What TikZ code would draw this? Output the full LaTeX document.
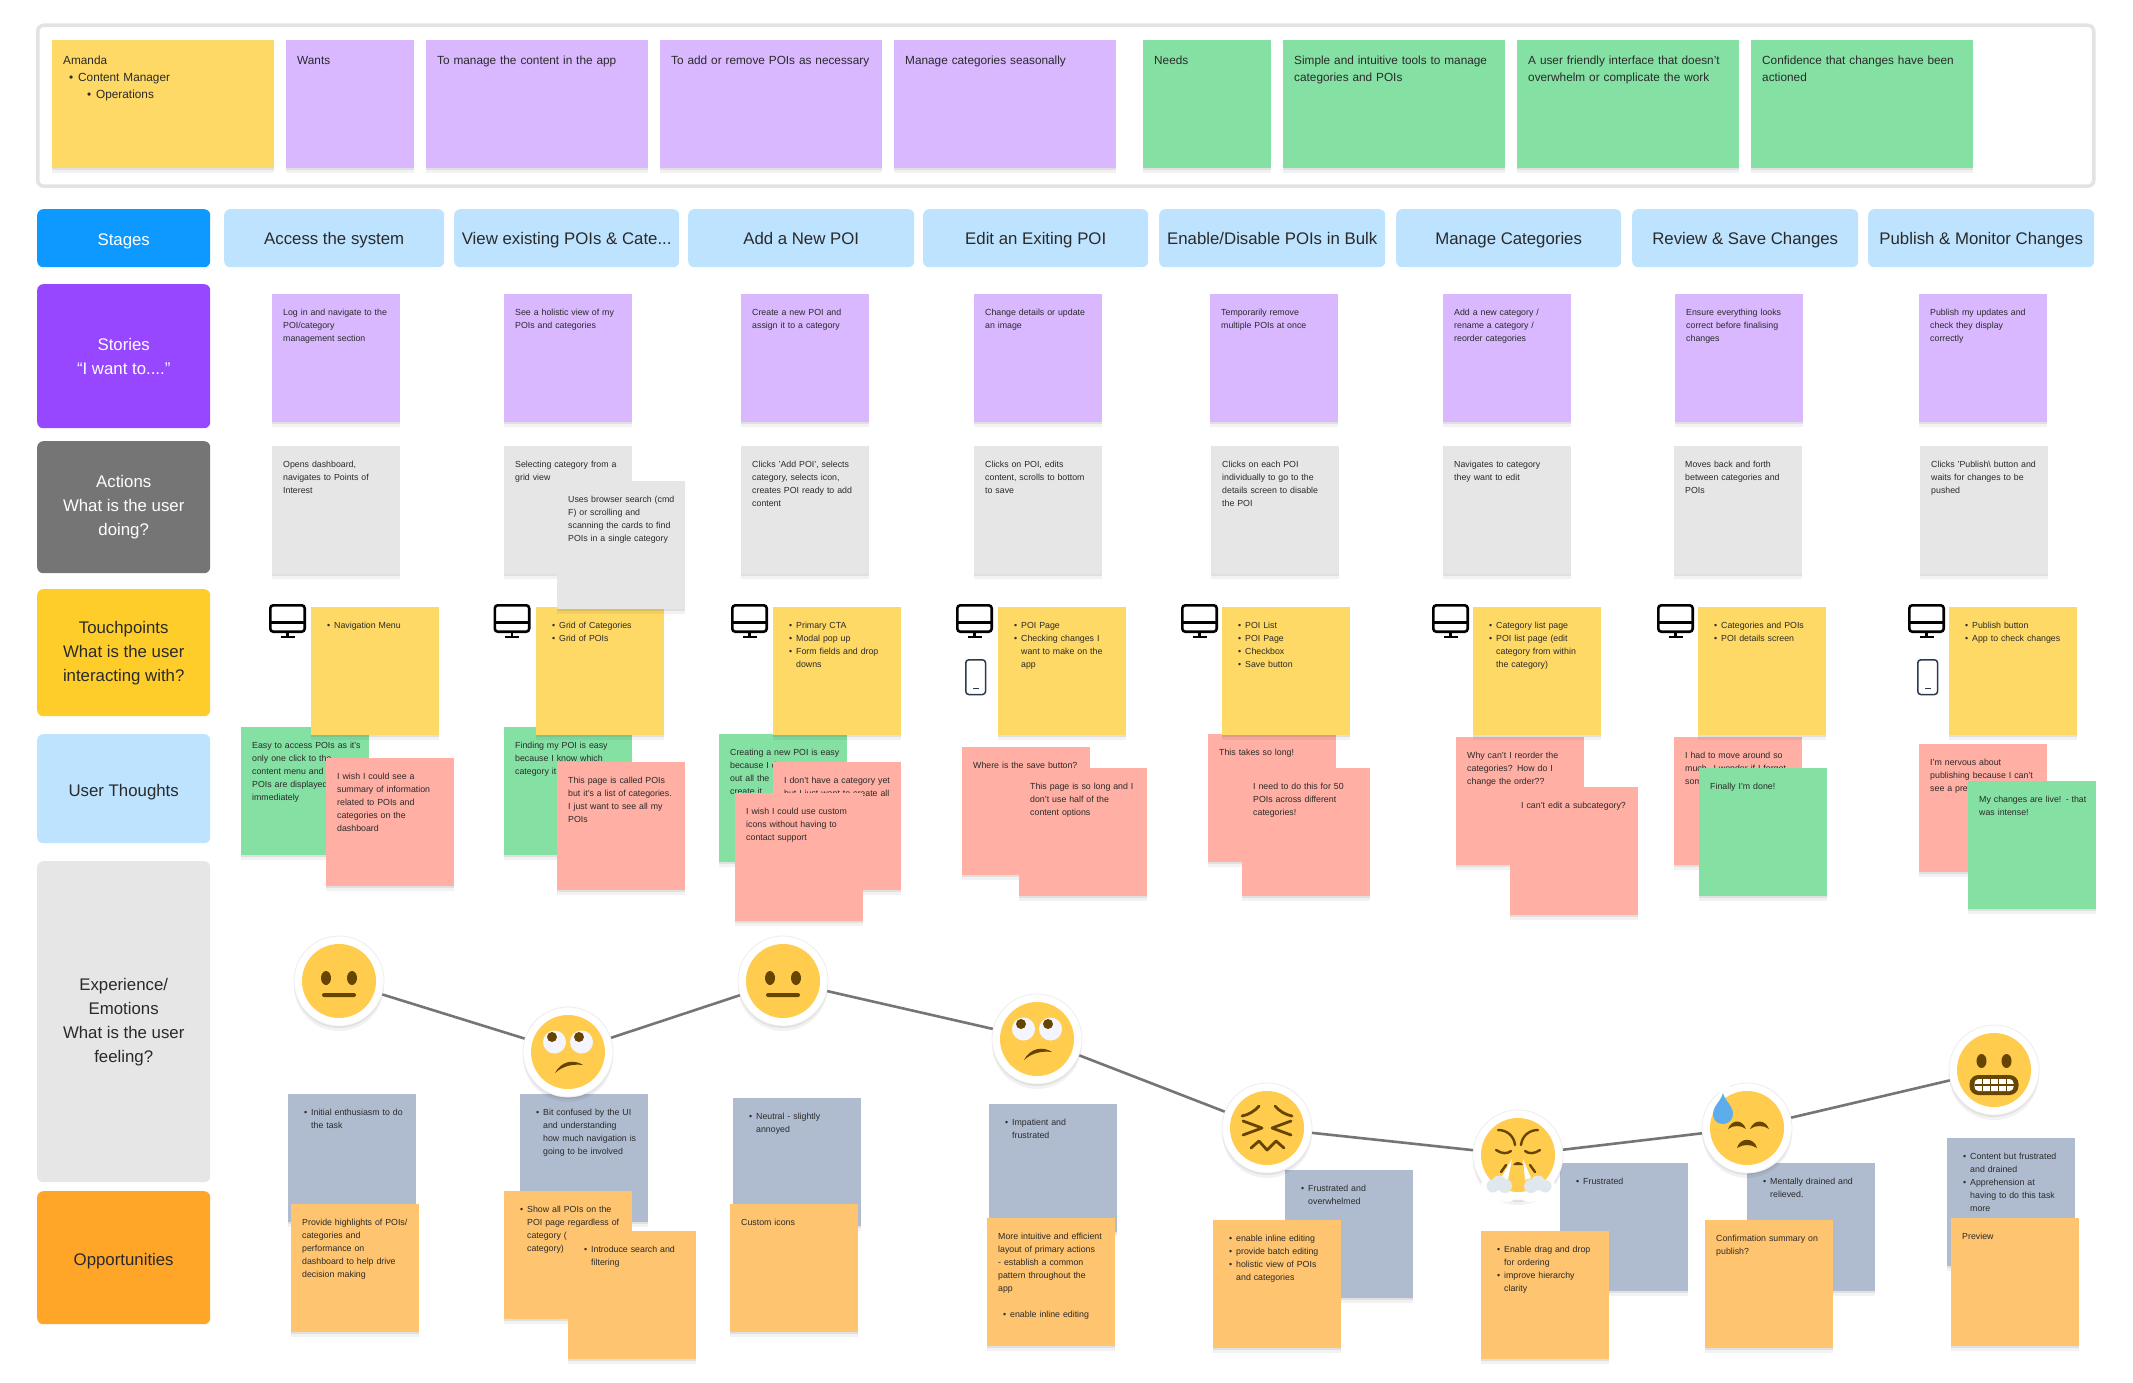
\documentclass[tikz,border=0pt]{standalone}
\usepackage{fontspec}
\setmainfont{Liberation Sans}
\usetikzlibrary{shadows}
\definecolor{ink}{HTML}{2A2A2A}
\definecolor{lilac}{HTML}{D9B8FF}
\definecolor{mint}{HTML}{85E0A3}
\definecolor{paper}{HTML}{E6E6E6}
\definecolor{honey}{HTML}{FFD966}
\definecolor{salmon}{HTML}{FFAFA3}
\definecolor{peach}{HTML}{FFC470}
\definecolor{slate}{HTML}{AFBCCF}
\definecolor{sky}{HTML}{BDE3FF}
\definecolor{stageblue}{HTML}{0D99FF}
\definecolor{storypurple}{HTML}{9747FF}
\definecolor{actiongrey}{HTML}{757575}
\definecolor{touchyellow}{HTML}{FFCD29}
\definecolor{ideaorange}{HTML}{FFA629}
\definecolor{faceyellow}{HTML}{FFCC4D}
\definecolor{facebrown}{HTML}{664500}
\definecolor{dropblue}{HTML}{5DADEC}
\definecolor{steam}{HTML}{E1E8ED}
\definecolor{phoneline}{HTML}{2C3A50}
\newcommand{\itm}{\hspace*{5pt}\makebox[7pt][l]{\textbullet}}
\newcommand{\cnt}{\hspace*{12pt}}
\tikzset{
  softshadow/.style={
    drop shadow={shadow xshift=0pt, shadow yshift=-2pt, opacity=0.07, fill=black},
    drop shadow={shadow xshift=0pt, shadow yshift=-5pt, opacity=0.05, fill=black}},
  sticky/.style={anchor=north west, inner sep=0pt, minimum width=128pt, minimum height=128pt,
    text width=128pt, text height=21pt, text depth=107pt, align=left, text=ink,
    font=\fontsize{8.8}{13}\selectfont, execute at begin node={\leftskip=11pt}, softshadow},
  widesticky/.style={sticky, minimum width=222pt, text width=222pt, text height=24.5pt, text depth=103.5pt,
    font=\fontsize{11.8}{17}\selectfont},
  topsticky/.style={sticky, text height=24.5pt, text depth=103.5pt, font=\fontsize{11.8}{17}\selectfont},
  rowcell/.style 2 args={anchor=north west, inner sep=0pt, minimum width=#1, minimum height=#2,
    rounded corners=6pt, align=center, font=\fontsize{16.8}{24}\selectfont},
  labelcell/.style 2 args={rowcell={#1}{#2}, execute at begin node={\rule{0pt}{19pt}}},
  stagecell/.style={rowcell={#1}{58pt}, fill=sky, text=ink, text height=12pt, text depth=0pt},
  sticker/.style={circle, fill=white, draw=black!7, line width=0.8pt, minimum size=90pt, inner sep=0pt, softshadow},
  journey/.style={draw=actiongrey, line width=2.6pt},
  neutral/.pic={
    \fill[faceyellow] (0,0) circle (37);
    \fill[facebrown] (-13,-3) ellipse (5 and 7) (13,-3) ellipse (5 and 7);
    \fill[facebrown, rounded corners=2pt] (-17,12) rectangle (17,16);
  },
  rolling/.pic={
    \fill[faceyellow] (0,0) circle (37);
    \fill[white!96!blue] (-13.5,-10) circle (11.5) (13.5,-10) circle (11.5);
    \fill[facebrown] (-16,-15) circle (5) (11,-15) circle (5);
    \fill[facebrown] (-13,21) .. controls (-7,9) and (6,7) .. (15,13) .. controls (6,12) and (-4,13) .. (-13,21) -- cycle;
  },
  persevere/.pic={
    \fill[faceyellow] (0,0) circle (37);
    \draw[facebrown, line width=2.8pt, line cap=round, line join=round]
      (-25,-12) .. controls (-19,-13) and (-12,-17) .. (-8,-22)
      (25,-12) .. controls (19,-13) and (12,-17) .. (8,-22)
      (-24,-7) -- (-5,0) -- (-24,7)
      (24,-7) -- (5,0) -- (24,7)
      (-16,20) -- (-8,13) -- (0,22) -- (9,13) -- (17,20);
  },
  triumph/.pic={
    \fill[white] (-22,32) circle (15) (-12,32) circle (15) (22,32) circle (15) (12,32) circle (15);
    \fill[faceyellow] (0,0) circle (37);
    \draw[facebrown, line width=2.4pt, line cap=round]
      (-20,-25) .. controls (-11,-25) and (-4,-19) .. (-3,-10)
      (20,-25) .. controls (11,-25) and (4,-19) .. (3,-10)
      (-22,-5) .. controls (-16,-1) and (-11,-1) .. (-7,-4)
      (22,-5) .. controls (16,-1) and (11,-1) .. (7,-4)
      (-17,17) -- (-12,10) (17,17) -- (12,10);
    \fill[facebrown] (-5,10) .. controls (-3,6) and (3,6) .. (5,10) -- cycle;
    \fill[white!90!steam] (-6,4) -- (-17,23) -- (-10,25) -- cycle;
    \fill[white!90!steam] (5,4) -- (13,23) -- (7,25) -- cycle;
    \fill[steam] (-25,31) circle (6.5) (-19,28) circle (7.5) (-13,31) circle (7);
    \fill[steam] (13,31) circle (7) (20,28) circle (7.5) (27,31) circle (6.5);
  },
  downcast/.pic={
    \fill[white] (-22,-38) circle (6);
    \fill[faceyellow] (0,0) circle (37);
    \fill[facebrown] (-19,1) .. controls (-15,-9) and (-5,-9) .. (-1,1) .. controls (-6,-3) and (-14,-3) .. (-19,1) -- cycle;
    \fill[facebrown] (3,1) .. controls (7,-9) and (18,-9) .. (22,1) .. controls (17,-3) and (8,-3) .. (3,1) -- cycle;
    \fill[facebrown] (-10,20) .. controls (-7,9) and (7,9) .. (10,20) .. controls (4,16) and (-4,16) .. (-10,20) -- cycle;
    \fill[dropblue] (-24,-35) .. controls (-22,-27) and (-14,-22) .. (-14,-14) .. controls (-14,-8) and (-19,-4) .. (-24,-4) .. controls (-30,-4) and (-34,-8) .. (-34,-14) .. controls (-34,-22) and (-26,-27) .. (-24,-35) -- cycle;
  },
  grimace/.pic={
    \fill[faceyellow] (0,0) circle (37);
    \fill[facebrown] (-12.5,-9) ellipse (5 and 7) (12.5,-9) ellipse (5 and 7);
    \fill[facebrown, rounded corners=9pt] (-24.5,5) rectangle (24.5,25);
    \fill[white, rounded corners=4pt] (-19.5,9) rectangle (19.5,21);
    \draw[facebrown, line width=1.3pt] (-19.5,15) -- (19.5,15)
      (-11.7,9) -- (-11.7,21) (-3.5,9) -- (-3.5,21) (4.5,9) -- (4.5,21) (12.3,9) -- (12.3,21);
  },
  desktop/.pic={
    \draw[black, line width=2.6pt, rounded corners=3pt] (1.3,1.3) rectangle (35.7,27.7);
    \draw[black, line width=2.6pt] (1.3,18.5) -- (35.7,18.5) (18.5,27.7) -- (18.5,33) (11.5,33) -- (25.5,33);
  },
  mobile/.pic={
    \draw[phoneline, line width=1.5pt, rounded corners=3pt] (0.8,0.8) rectangle (20.5,35.5);
    \draw[phoneline, line width=1.5pt] (8,29.5) -- (13.5,29.5);
  },
}
\begin{document}
\begin{tikzpicture}[x=1pt, y=-1pt]
  \useasboundingbox (0,0) rectangle (2133,1383);
  \fill[white] (0,0) rectangle (2133,1383);

  \node[draw=black!11, line width=3.5pt, rounded corners=6pt, anchor=north west, inner sep=0pt,
    minimum width=2056pt, minimum height=161pt] (persona) at (36,23.5) {};
  \node[widesticky, fill=honey] (amanda) at (52,40) {Amanda\\\hspace*{6pt}\makebox[9pt][l]{\textbullet}Content Manager\\\hspace*{24pt}\makebox[9pt][l]{\textbullet}Operations};
  \node[topsticky, fill=lilac] (wants) at (286,40) {Wants};
  \node[widesticky, fill=lilac] (want1) at (426,40) {To manage the content in the app};
  \node[widesticky, fill=lilac] (want2) at (660,40) {To add or remove POIs as necessary};
  \node[widesticky, fill=lilac] (want3) at (894,40) {Manage categories seasonally};
  \node[topsticky, fill=mint] (needs) at (1143,40) {Needs};
  \node[widesticky, fill=mint] (need1) at (1283,40) {Simple and intuitive tools to manage\\categories and POIs};
  \node[widesticky, fill=mint] (need2) at (1517,40) {A user friendly interface that doesn't\\overwhelm or complicate the work};
  \node[widesticky, fill=mint] (need3) at (1751,40) {Confidence that changes have been\\actioned};

  \node[labelcell={173pt}{58pt}, fill=stageblue, text=white] (stages) at (37,209) {Stages};
  \node[labelcell={173pt}{144pt}, fill=storypurple, text=white] (stories) at (37,284) {Stories\\“I want to....”};
  \node[labelcell={173pt}{132pt}, fill=actiongrey, text=white] (actions) at (37,441) {Actions\\What is the user\\doing?};
  \node[labelcell={173pt}{127pt}, fill=touchyellow, text=ink] (touchpoints) at (37,589) {Touchpoints\\What is the user\\interacting with?};
  \node[labelcell={173pt}{109pt}, fill=sky, text=ink] (thoughts) at (37,734) {User Thoughts};
  \node[labelcell={173pt}{321pt}, fill=paper, text=ink] (experience) at (37,861) {Experience/\\Emotions\\What is the user\\feeling?};
  \node[labelcell={173pt}{133pt}, fill=ideaorange, text=ink] (opportunities) at (37,1191) {Opportunities};

  \node[stagecell=220pt] (stage1) at (224,209) {Access the system};
  \node[stagecell=225pt] (stage2) at (454,209) {View existing POIs \& Cate...};
  \node[stagecell=226pt] (stage3) at (688,209) {Add a New POI};
  \node[stagecell=225pt] (stage4) at (923,209) {Edit an Exiting POI};
  \node[stagecell=226pt] (stage5) at (1159,209) {Enable/Disable POIs in Bulk};
  \node[stagecell=225pt] (stage6) at (1396,209) {Manage Categories};
  \node[stagecell=226pt] (stage7) at (1632,209) {Review \& Save Changes};
  \node[stagecell=226pt] (stage8) at (1868,209) {Publish \& Monitor Changes};

  \node[sticky, fill=lilac] (story1) at (272,294) {Log in and navigate to the\\POI/category\\management section};
  \node[sticky, fill=lilac] (story2) at (504,294) {See a holistic view of my\\POIs and categories};
  \node[sticky, fill=lilac] (story3) at (741,294) {Create a new POI and\\assign it to a category};
  \node[sticky, fill=lilac] (story4) at (974,294) {Change details or update\\an image};
  \node[sticky, fill=lilac] (story5) at (1210,294) {Temporarily remove\\multiple POIs at once};
  \node[sticky, fill=lilac] (story6) at (1443,294) {Add a new category /\\rename a category /\\reorder categories};
  \node[sticky, fill=lilac] (story7) at (1675,294) {Ensure everything looks\\correct before finalising\\changes};
  \node[sticky, fill=lilac] (story8) at (1919,294) {Publish my updates and\\check they display\\correctly};

  \node[sticky, fill=paper] (action1) at (272,446) {Opens dashboard,\\navigates to Points of\\Interest};
  \node[sticky, fill=paper] (action2) at (504,446) {Selecting category from a\\grid view};
  \node[sticky, fill=paper] (action3) at (741,446) {Clicks 'Add POI', selects\\category, selects icon,\\creates POI ready to add\\content};
  \node[sticky, fill=paper] (action4) at (974,446) {Clicks on POI, edits\\content, scrolls to bottom\\to save};
  \node[sticky, fill=paper] (action5) at (1211,446) {Clicks on each POI\\individually to go to the\\details screen to disable\\the POI};
  \node[sticky, fill=paper] (action6) at (1443,446) {Navigates to category\\they want to edit};
  \node[sticky, fill=paper] (action7) at (1674,446) {Moves back and forth\\between categories and\\POIs};
  \node[sticky, fill=paper] (action8) at (1920,446) {Clicks 'Publish\textbackslash{} button and\\waits for changes to be\\pushed};

  \pic at (269,604) {desktop};
  \pic at (493.5,604) {desktop};
  \pic at (731,604) {desktop};
  \pic at (956,604) {desktop};
  \pic at (1181,604) {desktop};
  \pic at (1432,604) {desktop};
  \pic at (1657,604) {desktop};
  \pic at (1908,604) {desktop};
  \pic at (965,659) {mobile};
  \pic at (1917,659) {mobile};

  \node[sticky, fill=mint] (thought1) at (241,727) {Easy to access POIs as it's\\only one click to the\\content menu and\\POIs are displayed\\immediately};
  \node[sticky, fill=mint] (thought2) at (504,727) {Finding my POI is easy\\because I know which\\category it};
  \node[sticky, fill=mint] (thought3) at (719,734) {Creating a new POI is easy\\because I d\\out all the\\create it};
  \node[sticky, fill=salmon] (thought4) at (962,747) {Where is the save button?};
  \node[sticky, fill=salmon] (thought5) at (1208,734) {This takes so long!};
  \node[sticky, fill=salmon] (thought6) at (1456,737) {Why can't I reorder the\\categories? How do I\\change the order??};
  \node[sticky, fill=salmon] (thought7) at (1674,737) {I had to move around so\\much. I wonder if I forgot\\som};
  \node[sticky, fill=salmon] (thought8) at (1919,744) {I'm nervous about\\publishing because I can't\\see a prev};

  \node[sticky, fill=honey] (touch1) at (311,607) {\itm Navigation Menu};
  \node[sticky, fill=honey] (touch2) at (536,607) {\itm Grid of Categories\\\itm Grid of POIs};
  \node[sticky, fill=honey] (touch3) at (773,607) {\itm Primary CTA\\\itm Modal pop up\\\itm Form fields and drop\\\cnt downs};
  \node[sticky, fill=honey] (touch4) at (998,607) {\itm POI Page\\\itm Checking changes I\\\cnt want to make on the\\\cnt app};
  \node[sticky, fill=honey] (touch5) at (1222,607) {\itm POI List\\\itm POI Page\\\itm Checkbox\\\itm Save button};
  \node[sticky, fill=honey] (touch6) at (1473,607) {\itm Category list page\\\itm POI list page (edit\\\cnt category from within\\\cnt the category)};
  \node[sticky, fill=honey] (touch7) at (1698,607) {\itm Categories and POIs\\\itm POI details screen};
  \node[sticky, fill=honey] (touch8) at (1949,607) {\itm Publish button\\\itm App to check changes};

  \node[sticky, fill=paper] (action2b) at (557,481) {Uses browser search (cmd\\F) or scrolling and\\scanning the cards to find\\POIs in a single category};

  \node[sticky, fill=salmon] (wish1) at (326,758) {I wish I could see a\\summary of information\\related to POIs and\\categories on the\\dashboard};
  \node[sticky, fill=salmon] (wish2) at (557,762) {This page is called POIs\\but it's a list of categories.\\I just want to see all my\\POIs};
  \node[sticky, fill=salmon] (wish3) at (773,762) {I don't have a category yet\\but I just want to create all};
  \node[sticky, fill=salmon] (wish3b) at (735,793) {I wish I could use custom\\icons without having to\\contact support};
  \node[sticky, fill=salmon] (wish4) at (1019,768) {This page is so long and I\\don't use half of the\\content options};
  \node[sticky, fill=salmon] (wish5) at (1242,768) {I need to do this for 50\\POIs across different\\categories!};
  \node[sticky, fill=salmon] (wish6) at (1510,787) {I can't edit a subcategory?};
  \node[sticky, fill=mint] (wish7) at (1699,768) {Finally I'm done!};
  \node[sticky, fill=mint] (wish8) at (1968,781) {My changes are live! - that\\was intense!};

  \node[sticky, fill=slate] (feel1) at (288,1094) {\itm Initial enthusiasm to do\\\cnt the task};
  \node[sticky, fill=slate] (feel2) at (520,1094) {\itm Bit confused by the UI\\\cnt and understanding\\\cnt how much navigation is\\\cnt going to be involved};
  \node[sticky, fill=slate] (feel3) at (733,1098) {\itm Neutral - slightly\\\cnt annoyed};
  \node[sticky, fill=slate] (feel4) at (989,1104) {\itm Impatient and\\\cnt frustrated};
  \node[sticky, fill=slate] (feel5) at (1285,1170) {\itm Frustrated and\\\cnt overwhelmed};
  \node[sticky, fill=slate] (feel6) at (1560,1163) {\itm Frustrated};
  \node[sticky, fill=slate] (feel7) at (1747,1163) {\itm Mentally drained and\\\cnt relieved.};
  \node[sticky, fill=slate] (feel8) at (1947,1138) {\itm Content but frustrated\\\cnt and drained\\\itm Apprehension at\\\cnt having to do this task\\\cnt more};

  \node[sticky, fill=peach] (idea1) at (291,1204) {Provide highlights of POIs/\\categories and\\performance on\\dashboard to help drive\\decision making};
  \node[sticky, fill=peach] (idea2) at (504,1191) {\itm Show all POIs on the\\\cnt POI page regardless of\\\cnt category (\\\cnt category)};
  \node[sticky, fill=peach] (idea2b) at (568,1231) {\itm Introduce search and\\\cnt filtering};
  \node[sticky, fill=peach] (idea3) at (730,1204) {Custom icons};
  \node[sticky, fill=peach] (idea4) at (987,1218) {More intuitive and efficient\\layout of primary actions\\- establish a common\\pattern throughout the\\app\\[13pt]\itm enable inline editing};
  \node[sticky, fill=peach] (idea5) at (1213,1220) {\itm enable inline editing\\\itm provide batch editing\\\itm holistic view of POIs\\\cnt and categories};
  \node[sticky, fill=peach] (idea6) at (1481,1231) {\itm Enable drag and drop\\\cnt for ordering\\\itm improve hierarchy\\\cnt clarity};
  \node[sticky, fill=peach] (idea7) at (1705,1220) {Confirmation summary on\\publish?};
  \node[sticky, fill=peach] (idea8) at (1951,1218) {Preview};

  \node[sticker] (em1) at (339,981) {};
  \node[sticker] (em2) at (568,1052) {};
  \node[sticker] (em3) at (783,981) {};
  \node[sticker] (em4) at (1037,1039) {};
  \node[sticker] (em5) at (1267,1128) {};
  \node[sticker] (em6) at (1518,1155) {};
  \node[sticker] (em7) at (1747,1128) {};
  \node[sticker] (em8) at (1994,1070) {};
  \draw[journey] (em1) -- (em2);
  \draw[journey] (em2) -- (em3);
  \draw[journey] (em3) -- (em4);
  \draw[journey] (em4) -- (em5);
  \draw[journey] (em5) -- (em6);
  \draw[journey] (em6) -- (em7);
  \draw[journey] (em7) -- (em8);
  \pic at (em1) {neutral};
  \pic at (em2) {rolling};
  \pic at (em3) {neutral};
  \pic at (em4) {rolling};
  \pic at (em5) {persevere};
  \pic at (em6) {triumph};
  \pic at (em7) {downcast};
  \pic at (em8) {grimace};
\end{tikzpicture}
\end{document}
